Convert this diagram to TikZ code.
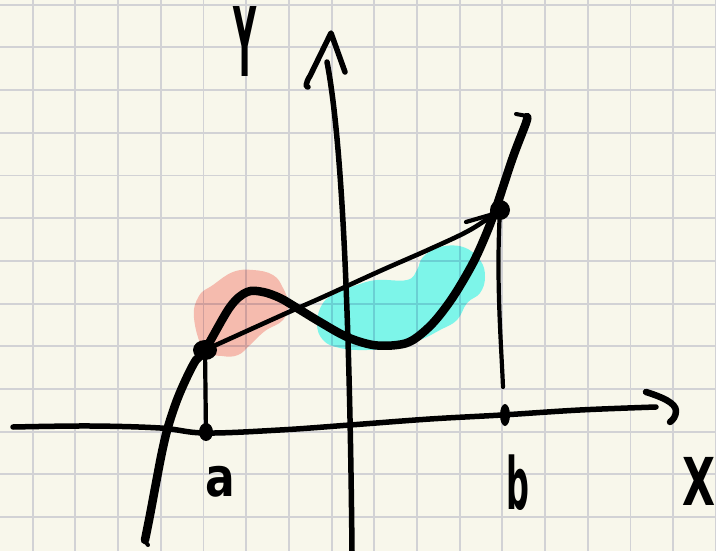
\documentclass[tikz,border=0pt]{standalone}
\usepackage{fontspec}
\setmainfont{DejaVu Sans}
\usetikzlibrary{calc}
\definecolor{paper}{HTML}{F8F7EB}
\definecolor{gridc}{HTML}{D2D2D5}
\definecolor{pinkblob}{HTML}{FCC2BD}
\definecolor{cyanblob}{HTML}{81FDFD}
\begin{document}
\begin{tikzpicture}[x=1pt,y=-1pt,
  ink/.style={line cap=round,line join=round,black},
  axisline/.style={ink,line width=5.5pt},
  thinline/.style={ink,line width=4.2pt},
  curveline/.style={ink,line width=8.5pt},
  lbl/.style={font=\fontsize{40}{40}\selectfont\bfseries,inner sep=0pt,text=black},
  blob/.style={blend mode=multiply}]
\useasboundingbox (0,0) rectangle (716,551);
\fill[paper] (0,0) rectangle (716,551);
% grid
\foreach \k in {0,...,16} {
  \draw[gridc,line width=1.9pt] ({32.7+42.7*\k},0) -- ({32.7+42.7*\k},551);
}
\foreach \k in {0,...,12} {
  \draw[gridc,line width=1.9pt] (0,{4.7+42.7*\k}) -- (716,{4.7+42.7*\k});
}
% blobs
\fill[pinkblob,blob] plot[smooth cycle,tension=0.7] coordinates {
  (194,318) (199,296) (213,285) (233,272) (253,270) (273,275) (283,288)
  (288,304) (283,320) (265,331) (250,345) (238,355) (222,356) (204,350)};
\fill[cyanblob,blob] plot[smooth cycle,tension=0.7] coordinates {
  (317,323) (323,303) (337,293) (357,285) (377,280) (407,280) (417,270)
  (423,257) (440,247) (463,247) (480,260) (485,277) (480,293) (467,303)
  (457,320) (440,330) (420,340) (397,347) (367,350) (340,348) (323,340)};
% key points
\coordinate (A) at (205,350);
\coordinate (B) at (500,210);
\coordinate (Ax) at (206,432);
\coordinate (Bx) at (505,415);
\coordinate (Bfoot) at (503,387);
\coordinate (ybot) at (352,551);
\coordinate (ytop) at (327,62);
\coordinate (yapex) at (331,33);
\coordinate (xend) at (656,407);
% y axis
\draw[axisline] (ybot) .. controls (350,350) and (344,150) .. (ytop);
\draw[axisline] (308,87) .. controls (305,88) and (306,82) .. (310,76) -- (yapex) -- (345,72);
% x axis
\draw[axisline] plot[smooth,tension=0.6] coordinates {
  (13,427) (90,426) (160,428) (205,433) (280,430) (350,425) (430,419) (502,415) (580,410) (xend)};
\draw[ink,line width=6.5pt] (646,392) .. controls (662,397) and (676,403) .. (676,411) .. controls (676,416) and (673,420) .. (670,422);
% verticals
\draw[thinline] (A) -- (Ax);
\draw[thinline] (B) .. controls (496,280) and (501,340) .. (Bfoot);
% secant
\draw[thinline,line width=4.6pt] plot[smooth,tension=0.6] coordinates {
  (A) (280,316) (323,297) (380,271) (430,249) (470,230) (B)};
\draw[thinline] (466,222) -- (490,215);
% cubic curve
\draw[curveline] plot[smooth,tension=0.55] coordinates {
  (145,540) (150,515) (156,483) (162,452) (168,427) (177,400) (187,377) (196,360) (A) (230,307)
  (247,292) (263,292) (280,298) (297,308) (320,322) (347,337) (373,345)
  (397,345) (413,340) (433,323) (453,297) (473,263) (487,232) (497,205)
  (513,157) (526,123) (527,117)};
\draw[ink,line width=4pt] (527,116) -- (516,114);
\draw[ink,line width=4pt] (145,541) -- (148,545);
% dots
\fill (A) ellipse [x radius=12, y radius=10];
\fill (B) ellipse [x radius=10, y radius=10];
\fill (Ax) ellipse [x radius=7, y radius=9];
\fill (Bx) ellipse [x radius=5, y radius=11];
% labels
\node[lbl,xscale=0.8,yscale=2.4] (ylab) at (245,42) {Y};
\node[lbl,xscale=1.1,yscale=1.35] (alab) at (220,482) {a};
\node[lbl,xscale=0.8,yscale=1.8] (blab) at (518,483) {b};
\node[lbl,xscale=1.07,yscale=1.65] (xlab) at (699,481) {X};
\end{tikzpicture}
\end{document}
